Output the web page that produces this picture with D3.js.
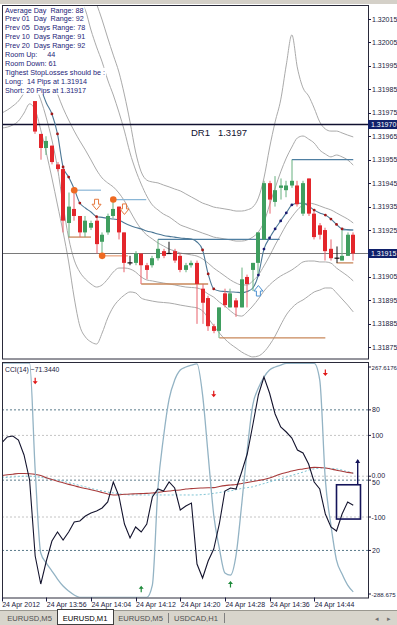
<!DOCTYPE html>
<html><head><meta charset="utf-8">
<script src="https://cdn.jsdelivr.net/npm/d3@7"></script>
<style>body{margin:0;background:#fff;} svg{display:block;font-family:"Liberation Sans",Arial,sans-serif;}</style>
</head><body>
<svg id="c" width="397" height="625"></svg>
<script>
// ---------------- DATA ----------------
const firstCandleBar = 6; // bar index of first candle (13:54)
const candleOpen  = [1.31980,1.31966,1.31960,1.31961,1.31953,1.31951,1.31928,1.31934,1.31931,1.31924,1.31926,1.31929,1.31920,1.31924,1.31931,1.31935,1.31924,1.31911,1.31911,1.31915,1.31910,1.31910,1.31913,1.31916,1.31915,1.31916,1.31914,1.31908,1.31910,1.31911,1.31900,1.31896,1.31884,1.31882,1.31898,1.31892,1.31895,1.31892,1.31905,1.31908,1.31911,1.31921,1.31945,1.31937,1.31943,1.31942,1.31944,1.31944,1.31932,1.31947,1.31932,1.31927,1.31925,1.31917,1.31913,1.31912,1.31914,1.31923];
const candleHigh  = [1.31980,1.31966,1.31965,1.31961,1.31954,1.31952,1.31941,1.31942,1.31931,1.31931,1.31929,1.31931,1.31924,1.31932,1.31938,1.31935,1.31924,1.31914,1.31916,1.31915,1.31911,1.31914,1.31921,1.31917,1.31920,1.31917,1.31915,1.31911,1.31912,1.31912,1.31902,1.31897,1.31885,1.31892,1.31900,1.31900,1.31896,1.31909,1.31906,1.31911,1.31924,1.31946,1.31946,1.31948,1.31947,1.31946,1.31955,1.31946,1.31946,1.31947,1.31933,1.31928,1.31926,1.31921,1.31918,1.31925,1.31924,1.31924];
const candleLow   = [1.31966,1.31955,1.31957,1.31953,1.31950,1.31924,1.31922,1.31929,1.31922,1.31922,1.31925,1.31915,1.31914,1.31923,1.31930,1.31921,1.31907,1.31910,1.31910,1.31902,1.31904,1.31909,1.31912,1.31913,1.31915,1.31911,1.31907,1.31907,1.31909,1.31885,1.31885,1.31882,1.31881,1.31879,1.31892,1.31892,1.31888,1.31892,1.31892,1.31899,1.31906,1.31921,1.31932,1.31935,1.31938,1.31939,1.31943,1.31935,1.31931,1.31931,1.31921,1.31921,1.31912,1.31912,1.31911,1.31912,1.31914,1.31912];
const candleClose = [1.31967,1.31960,1.31963,1.31954,1.31951,1.31929,1.31935,1.31931,1.31924,1.31929,1.31928,1.31919,1.31923,1.31931,1.31934,1.31924,1.31911,1.31911,1.31915,1.31910,1.31908,1.31913,1.31917,1.31914,1.31915,1.31912,1.31908,1.31910,1.31911,1.31902,1.31894,1.31884,1.31882,1.31892,1.31893,1.31898,1.31892,1.31904,1.31902,1.31911,1.31924,1.31945,1.31938,1.31942,1.31944,1.31944,1.31946,1.31936,1.31945,1.31932,1.31922,1.31923,1.31916,1.31913,1.31913,1.31914,1.31923,1.31915];

// moving average (bars 6..63)
const maLine = [1.319933,1.319856,1.319792,1.319745,1.319660,1.319519,1.319476,1.319425,1.319365,1.319344,1.319327,1.319307,1.319304,1.319300,1.319297,1.319293,1.319280,1.319269,1.319261,1.319255,1.319246,1.319240,1.319233,1.319227,1.319223,1.319220,1.319216,1.319214,1.319212,1.319199,1.319165,1.319063,1.318999,1.318990,1.318988,1.318986,1.318985,1.318983,1.318988,1.319003,1.319058,1.319169,1.319216,1.319255,1.319289,1.319323,1.319357,1.319364,1.319364,1.319353,1.319335,1.319323,1.319314,1.319297,1.319274,1.319255,1.319252,1.319250];
const maDotsDown = [9,10,11,12,14,17,36,37,38,56,58,59,60,61];
const maDotsUp = [46,47,48,49,50,51,52];

// bands (bars 0..63)
const bandUpperOuter = Array(14).fill(null).concat([1.320402,1.320338,1.320274,1.320214,1.320146,1.320069,1.319996,1.319924,1.319826,1.319711,1.319583,1.319498,1.319463,1.319455,1.319451,1.319442,1.319434,1.319425,1.319417,1.319404,1.319391,1.319378,1.319365,1.319357,1.319348,1.319344,1.319340,1.319336,1.319331,1.319331,1.319336,1.319348,1.319387,1.319472,1.319600,1.319711,1.319805,1.319954,1.320082,1.319941,1.319856,1.319822,1.319770,1.319711,1.319681,1.319672,1.319672,1.319664,1.319655,1.319647]);
const bandUpperInner = Array(13).fill(null).concat([1.320295,1.320231,1.320188,1.320103,1.320031,1.319967,1.319890,1.319826,1.319753,1.319672,1.319579,1.319506,1.319446,1.319395,1.319357,1.319336,1.319318,1.319306,1.319289,1.319272,1.319263,1.319254,1.319246,1.319237,1.319229,1.319220,1.319216,1.319212,1.319208,1.319203,1.319203,1.319208,1.319220,1.319242,1.319284,1.319357,1.319429,1.319498,1.319557,1.319604,1.319643,1.319651,1.319638,1.319621,1.319591,1.319574,1.319562,1.319570,1.319562,1.319549,1.319527]);
const bandMiddle = Array(9).fill(null).concat([1.319890,1.319830,1.319770,1.319719,1.319672,1.319630,1.319591,1.319549,1.319506,1.319472,1.319451,1.319434,1.319408,1.319374,1.319331,1.319289,1.319254,1.319229,1.319212,1.319195,1.319182,1.319169,1.319161,1.319152,1.319148,1.319144,1.319139,1.319127,1.319109,1.319088,1.319071,1.319054,1.319037,1.319024,1.319016,1.319016,1.319033,1.319058,1.319097,1.319139,1.319186,1.319229,1.319272,1.319306,1.319336,1.319357,1.319365,1.319361,1.319353,1.319344,1.319336,1.319323,1.319310,1.319297,1.319280]);
const bandLowerInner = [1.319749,1.319762,1.319779,1.319800,1.319834,1.319864,1.319856,1.319805,1.319728,1.319634,1.319515,1.319357,1.319216,1.319122,1.319071,1.319041,1.319020,1.319007,1.319016,1.319041,1.319071,1.319088,1.319088,1.319084,1.319071,1.319050,1.319037,1.319033,1.319028,1.319024,1.319020,1.319016,1.319011,1.319007,1.319005,1.319003,1.318994,1.318977,1.318964,1.318943,1.318926,1.318905,1.318888,1.318883,1.318901,1.318926,1.318956,1.318990,1.319016,1.319037,1.319054,1.319067,1.319080,1.319097,1.319114,1.319118,1.319118,1.319114,1.319114,1.319109,1.319088,1.319071,1.319054,1.319033];
const bandLowerOuter = [1.319685,1.319689,1.319698,1.319715,1.319749,1.319788,1.319762,1.319677,1.319579,1.319472,1.319357,1.319242,1.319114,1.318960,1.318841,1.318794,1.318773,1.318764,1.318811,1.318875,1.318922,1.318952,1.318973,1.318986,1.318982,1.318960,1.318952,1.318947,1.318943,1.318941,1.318939,1.318935,1.318930,1.318926,1.318922,1.318918,1.318905,1.318875,1.318841,1.318811,1.318785,1.318764,1.318747,1.318730,1.318717,1.318709,1.318713,1.318730,1.318760,1.318798,1.318845,1.318888,1.318918,1.318939,1.318952,1.318969,1.318986,1.318994,1.319003,1.319003,1.318982,1.318956,1.318930,1.318901];

// horizontal level segments
const levelStart = [28,52,61,13,20,18,12,25,39,60];
const levelEnd   = [49.8,63,63,17.8,25.9,22.6,16,37,58,63];
const levelPrice = [1.31921,1.31955,1.31925,1.31942,1.31938,1.31914,1.31922,1.31902,1.31879,1.31911];
const levelKind  = ["res","res","resLight","frac","frac","fracLo","sup","sup","sup","sup"];

const fractalBars = [13,18,20];
const fractalPrices = [1.31942,1.31914,1.31938];
const sellArrowBars = [17,22];
const sellArrowPrices = [1.31936,1.31934];
const buyArrowBars = [46];
const buyArrowPrices = [1.31899];

const dr1Price = 1.3197;
const bidPrice = 1.31915;
const priceTicks = [1.32015,1.32005,1.31995,1.31985,1.31975,1.31965,1.31955,1.31945,1.31935,1.31925,1.31905,1.31895,1.31885,1.31875];

const infoLines = ["Average Day  Range: 88","Prev 01  Day  Range: 92","Prev 05  Days Range: 78","Prev 10  Days Range: 91","Prev 20  Days Range: 92","Room Up:     44","Room Down: 61","Tighest StopLosses should be :","Long:  14 Pips at 1.31914","Short: 20 Pips at 1.31917"];

// indicator window (bars 0..63)
const cciValues = [81.4,96.1,98.5,88.7,52,-9.3,-195.6,-264.2,-207.8,-158.8,-136.7,-156.3,-136.7,-112.2,-109.8,-97.5,-90.2,-85.3,-77.9,-63.2,-14.2,-48.5,-117.1,-151.4,-124.5,-136.7,-117.1,-51,-31.4,-36.3,-14.2,-28.9,-82.8,-73,-65.7,-215.2,-249.5,-207.8,-178.4,-117.1,-36.3,-28.9,-31.4,10.3,54.4,125.5,199,243.1,203.9,152.4,120.6,108.3,93.6,64.2,56.8,29.9,-14.2,-31.4,-92.6,-124.5,-134.3,-92.6,-63.2,-71.344];
const stochValues = [100,100,100,100,100,100,54.3,18.9,14.6,11.2,7.8,4.8,2.7,1.0,0,0,0,0,0,0,0,0,0,0,0,0,0,5.2,46.6,68.4,84.6,92.7,97,98.3,99.1,99.6,86.4,60.7,35.1,21,10.4,9.5,18,39.4,62.9,82.1,89.3,94,97,98.3,99.1,99.8,99.8,99.8,99.8,99.8,99.8,92.7,50.1,30.9,15.9,9.9,5.2,2.3];
const cciMa = [1.7,3.4,4.9,6.6,6.6,5.9,4.4,1.7,-3.9,-8.1,-12.3,-16.2,-20.1,-23.5,-27,-30.1,-33.1,-36.3,-39.9,-43.6,-46.1,-45.6,-44.4,-43.6,-43.1,-42.6,-42.1,-41.1,-39.9,-37.5,-36.3,-34.6,-33.8,-31.4,-30.4,-29.4,-28.9,-28.4,-27.9,-25.2,-23,-21.6,-20.3,-17.9,-15.4,-13,-10.5,-8.1,-4.4,0.5,5.4,9,12.7,15.9,17.6,20.1,21.6,21.3,20.1,17.6,14.7,12.2,9.3,7.3];
const cciSignal = [-4,-3,-2,-1,0,0,-1,-3,-5,-7,-9,-12,-16,-19,-23,-26,-30,-33,-36,-39,-41,-43,-45,-46,-46,-46,-46,-46,-46,-46,-46,-46,-46,-46,-46,-46,-45,-44,-42,-40,-38,-36,-33,-30,-28,-26,-22,-18,-14,-10,-7,-2,2,6,10,15,18,20,20,19,18,15,11,8];
const cciLevels = [100,0,-100];
const stochLevels = [80,50,20];
const cciAxisLabels = ["267.6176","100","0.00","-100","-288.675"];
const cciAxisValues = [267.6176,100,0,-100,-288.675];
const stochAxisLabels = ["80","50","20"];
const cciDownArrowBars = [6,38,58];
const cciDownArrowValues = [233,201,253];
const cciUpArrowBars = [25,41];
const cciUpArrowValues = [-276,-264];
const boxBars = [60,64.3];
const boxValues = [-21,-105];
const boxArrowBar = 63.8;
const boxArrowValues = [-21,40];

const timeLabelBars = [0,8,16,24,32,40,48,56];
const timeLabels = ["24 Apr 2012","24 Apr 13:56","24 Apr 14:04","24 Apr 14:12","24 Apr 14:20","24 Apr 14:28","24 Apr 14:36","24 Apr 14:44"];
const tabNames = ["EURUSD,M5","EURUSD,M1","EURUSD,M5","USDCAD,H1"];
const activeTab = 1;

// ---------------- LAYOUT ----------------
const svg = d3.select("#c");
const L = 2, R = 368, mainTop = 6, mainBot = 359, cciTop = 362, cciBot = 597.5;
const x = d3.scaleLinear().domain([0, 63]).range([1.7, 353.24]);
const y = d3.scaleLinear().domain([1.32015, 1.31875]).range([19, 347.3]);
const yc = d3.scaleLinear().domain([267.6176, -288.675]).range([367, 594]);
const ys = d3.scaleLinear().domain([100, 0]).range([363, 597.3]);
const axisColor = "#1a1a40";

svg.append("rect").attr("x",0).attr("y",0).attr("width",397).attr("height",625).attr("fill","#fff");
svg.append("rect").attr("x",0).attr("y",0).attr("width",397).attr("height",4).attr("fill","#d4d0c8");

const defs = svg.append("defs");
defs.append("clipPath").attr("id","cm").append("rect").attr("x",L).attr("y",mainTop).attr("width",R-L).attr("height",mainBot-mainTop);
defs.append("clipPath").attr("id","cc").append("rect").attr("x",L).attr("y",cciTop).attr("width",R-L).attr("height",cciBot-cciTop);

const gm = svg.append("g").attr("clip-path","url(#cm)");

// bands
const bandLine = d3.line().defined(d => d != null).x((d,i) => x(i)).y(d => y(d)).curve(d3.curveMonotoneX);
[bandUpperOuter, bandUpperInner, bandMiddle, bandLowerInner, bandLowerOuter].forEach(b => {
  gm.append("path").attr("d", bandLine(b)).attr("fill","none").attr("stroke","#aaaaaa").attr("stroke-width",1);
});

// horizontal reference lines
gm.append("line").attr("x1",L).attr("x2",R).attr("y1",y(bidPrice)).attr("y2",y(bidPrice)).attr("stroke","#7a7a7a").attr("stroke-width",1);
gm.append("line").attr("x1",L).attr("x2",R).attr("y1",y(dr1Price)).attr("y2",y(dr1Price)).attr("stroke","#101030").attr("stroke-width",1.6);
gm.append("text").attr("x",191).attr("y",y(dr1Price)+11).attr("font-size",9.5).attr("fill","#101030").style("white-space","pre").text("DR1   " + d3.format(".4f")(dr1Price));

// levels
const levelColor = {res:"#4f7fa2", resLight:"#8fb5cf", frac:"#8ab6d6", fracLo:"#e8a07a", sup:"#c8875a"};
levelPrice.forEach((p,i) => {
  gm.append("line").attr("x1",x(levelStart[i])).attr("x2",x(levelEnd[i])).attr("y1",y(p)).attr("y2",y(p))
    .attr("stroke",levelColor[levelKind[i]]).attr("stroke-width", levelKind[i]==="sup"?1.3:1.2);
});

// MA line
const maPts = maLine.map((v,i) => [firstCandleBar + i, v]);
gm.append("path").attr("d", d3.line().x(d => x(d[0])).y(d => y(d[1])).curve(d3.curveMonotoneX)(maPts)).attr("fill","none").attr("stroke","#4d7896").attr("stroke-width",1.1);

// candles
const cg = gm.append("g");
candleOpen.forEach((o,i) => {
  const b = firstCandleBar + i, c = candleClose[i], h = candleHigh[i], l = candleLow[i];
  const cx = Math.round(x(b));
  let col = c > o ? "#3f9e5f" : (c < o ? "#e3262b" : "#101010");
  let wick = c > o ? "#66b07f" : (c < o ? "#e8606a" : "#101010");
  cg.append("line").attr("x1",cx).attr("x2",cx).attr("y1",y(h)).attr("y2",y(l)).attr("stroke",wick).attr("stroke-width",1);
  if (c === o) {
    cg.append("line").attr("x1",cx-2.5).attr("x2",cx+2.5).attr("y1",y(o)).attr("y2",y(o)).attr("stroke",col).attr("stroke-width",1.2);
  } else {
    const top = y(Math.max(o,c)), bot = y(Math.min(o,c));
    cg.append("rect").attr("x",cx-2).attr("y",top).attr("width",4).attr("height",Math.max(1.5,bot-top)).attr("fill",col);
  }
});

// MA dots
maDotsDown.forEach(b => gm.append("circle").attr("cx",x(b)).attr("cy",y(maLine[b-firstCandleBar])).attr("r",1.4).attr("fill","#a01818"));
maDotsUp.forEach(b => gm.append("circle").attr("cx",x(b)).attr("cy",y(maLine[b-firstCandleBar])).attr("r",1.4).attr("fill","#1a1a70"));

// fractal dots
fractalBars.forEach((b,i) => gm.append("circle").attr("cx",x(b)).attr("cy",y(fractalPrices[i])).attr("r",3.3).attr("fill","#ee6a22"));

// block arrows
function blockArrow(cx, cy, dir) {
  const s = dir; // 1 = down, -1 = up
  const pts = [[cx-2, cy-5*s],[cx+2, cy-5*s],[cx+2, cy],[cx+4.5, cy],[cx, cy+5.5*s],[cx-4.5, cy],[cx-2, cy]];
  return "M" + pts.map(p => p.join(",")).join("L") + "Z";
}
sellArrowBars.forEach((b,i) => gm.append("path").attr("d", blockArrow(x(b), y(sellArrowPrices[i]), 1)).attr("fill","#fff").attr("stroke","#e6783c").attr("stroke-width",1));
buyArrowBars.forEach((b,i) => gm.append("path").attr("d", blockArrow(x(b), y(buyArrowPrices[i]), -1)).attr("fill","#fff").attr("stroke","#4a90d0").attr("stroke-width",1));

// info text
const ig = svg.append("g");
infoLines.forEach((t,i) => {
  const tx = ig.append("text").attr("x",5).attr("y",12.5 + i*8.9).attr("font-size",7.2)
    .attr("font-family","'Liberation Sans Narrow','Arial Narrow','Liberation Sans',sans-serif")
    .attr("fill","#1c1c78").style("white-space","pre").text(t);
  const bb = tx.node().getBBox();
  ig.insert("rect","text").attr("x",bb.x-1).attr("y",bb.y).attr("width",bb.width+2).attr("height",bb.height).attr("fill","#fff");
});

// main frame
svg.append("rect").attr("x",L+0.5).attr("y",mainTop-0.5).attr("width",R-L).attr("height",mainBot-mainTop+0.5).attr("fill","none").attr("stroke","#2a2a3a").attr("stroke-width",1);

// price axis
const ag = svg.append("g").attr("font-size",7).attr("fill",axisColor);
priceTicks.forEach(p => {
  ag.append("line").attr("x1",R).attr("x2",R+3).attr("y1",Math.round(y(p))+0.5).attr("y2",Math.round(y(p))+0.5).attr("stroke",axisColor);
  ag.append("text").attr("x",R+4).attr("y",y(p)+2.5).text(d3.format(".5f")(p));
});
[[dr1Price,"1.31970"],[bidPrice,"1.31915"]].forEach(([p,t]) => {
  ag.append("rect").attr("x",R).attr("y",y(p)-4.5).attr("width",397-R).attr("height",9).attr("fill","#10206a");
  ag.append("text").attr("x",R+3).attr("y",y(p)+2.5).attr("fill","#fff").text(t);
});

// ---------------- indicator window ----------------
const gc = svg.append("g").attr("clip-path","url(#cc)");
stochLevels.forEach(v => gc.append("line").attr("x1",L).attr("x2",R).attr("y1",ys(v)).attr("y2",ys(v)).attr("stroke","#5a7a8a").attr("stroke-dasharray","2,2").attr("stroke-width",1));
cciLevels.forEach(v => gc.append("line").attr("x1",L).attr("x2",R).attr("y1",yc(v)).attr("y2",yc(v)).attr("stroke","#c4c4c4").attr("stroke-dasharray","2,2").attr("stroke-width",1));

const lineC = d3.line().x((d,i) => x(i)).y(d => yc(d));
gc.append("path").attr("d", lineC(cciSignal)).attr("fill","none").attr("stroke","#7fc4d4").attr("stroke-dasharray","2,2").attr("stroke-width",1);
gc.append("path").attr("d", lineC.curve(d3.curveMonotoneX)(cciMa)).attr("fill","none").attr("stroke","#a83a3a").attr("stroke-width",1.1);
lineC.curve(d3.curveLinear);
gc.append("path").attr("d", d3.line().x((d,i) => x(i)).y(d => ys(d)).curve(d3.curveMonotoneX)(stochValues)).attr("fill","none").attr("stroke","#93b3c4").attr("stroke-width",1.3);
gc.append("path").attr("d", lineC(cciValues)).attr("fill","none").attr("stroke","#14142e").attr("stroke-width",1.1);

function smallArrow(cx, cy, dir) {
  const s = dir;
  return `M${cx-0.6},${cy-3.5*s}L${cx+0.6},${cy-3.5*s}L${cx+0.6},${cy}L${cx+2.5},${cy}L${cx},${cy+3*s}L${cx-2.5},${cy}L${cx-0.6},${cy}Z`;
}
cciDownArrowBars.forEach((b,i) => gc.append("path").attr("d", smallArrow(x(b), yc(cciDownArrowValues[i]), 1)).attr("fill","#e01818"));
cciUpArrowBars.forEach((b,i) => gc.append("path").attr("d", smallArrow(x(b), yc(cciUpArrowValues[i]), -1)).attr("fill","#1e8a3a"));

// navy box and arrow
gc.append("rect").attr("x",x(boxBars[0])).attr("y",yc(boxValues[0])).attr("width",x(boxBars[1])-x(boxBars[0])).attr("height",yc(boxValues[1])-yc(boxValues[0])).attr("fill","none").attr("stroke","#14145a").attr("stroke-width",1.6);
gc.append("line").attr("x1",x(boxArrowBar)).attr("x2",x(boxArrowBar)).attr("y1",yc(boxArrowValues[0])).attr("y2",yc(boxArrowValues[1])).attr("stroke","#14145a").attr("stroke-width",1.4);
gc.append("path").attr("d",`M${x(boxArrowBar)-2.5},${yc(boxArrowValues[1])+3}L${x(boxArrowBar)},${yc(boxArrowValues[1])-1}L${x(boxArrowBar)+2.5},${yc(boxArrowValues[1])+3}Z`).attr("fill","#14145a");

svg.append("text").attr("x",5).attr("y",371.5).attr("font-size",6.8).attr("fill","#202040").text("CCI(14) " + d3.format(".4f")(cciValues[cciValues.length-1]));

svg.append("rect").attr("x",L+0.5).attr("y",cciTop+0.5).attr("width",R-L).attr("height",cciBot-cciTop).attr("fill","none").attr("stroke","#2a2a3a").attr("stroke-width",1);

const cg2 = svg.append("g").attr("font-size",7).attr("fill",axisColor);
cciAxisValues.forEach((v,i) => {
  const t = cciAxisLabels[i];
  const dy = t === "0.00" ? -1 : 0;
  cg2.append("line").attr("x1",R).attr("x2",R+3).attr("y1",yc(v)).attr("y2",yc(v)).attr("stroke",axisColor);
  cg2.append("text").attr("x",R+3.5).attr("y",yc(v)+2.5+dy).attr("font-size", t.length > 5 ? 6.1 : 7).text(t);
});
stochLevels.forEach((v,i) => {
  const dy = v === 50 ? 2.5 : 0;
  cg2.append("line").attr("x1",R).attr("x2",R+3).attr("y1",ys(v)).attr("y2",ys(v)).attr("stroke",axisColor);
  cg2.append("text").attr("x",R+4).attr("y",ys(v)+2.5+dy).text(stochAxisLabels[i]);
});

// time axis
const tg = svg.append("g").attr("font-size",7).attr("fill",axisColor);
timeLabelBars.forEach((b,i) => {
  const tx = Math.round(x(b)) + 0.5;
  tg.append("line").attr("x1",tx).attr("x2",tx).attr("y1",cciBot).attr("y2",cciBot+4).attr("stroke",axisColor);
  tg.append("text").attr("x",x(b)+0.5).attr("y",606.5).text(timeLabels[i]);
});

// tabs
svg.append("rect").attr("x",0).attr("y",610).attr("width",397).attr("height",15).attr("fill","#d8d5cc");
svg.append("line").attr("x1",0).attr("x2",397).attr("y1",610.5).attr("y2",610.5).attr("stroke","#9a9890");
const tabX = [2,57,113,168];
const tabW = [55,56,55,56];
tabNames.forEach((t,i) => {
  if (i === activeTab) {
    svg.append("rect").attr("x",tabX[i]+0.5).attr("y",609.5).attr("width",tabW[i]).attr("height",15).attr("fill","#fff").attr("stroke","#404040");
  } else {
    svg.append("line").attr("x1",tabX[i]+tabW[i]+0.5).attr("x2",tabX[i]+tabW[i]+0.5).attr("y1",613).attr("y2",623).attr("stroke","#808080");
  }
  svg.append("text").attr("x",tabX[i]+tabW[i]/2).attr("y",621).attr("text-anchor","middle").attr("font-size",7.6)
    .attr("fill", i===activeTab ? "#000" : "#505050").text(t);
});
svg.append("text").attr("x",375).attr("y",621).attr("font-size",7).attr("fill","#707070").text("◂");
svg.append("text").attr("x",387).attr("y",621).attr("font-size",7).attr("fill","#707070").text("▸");
</script></body></html>
